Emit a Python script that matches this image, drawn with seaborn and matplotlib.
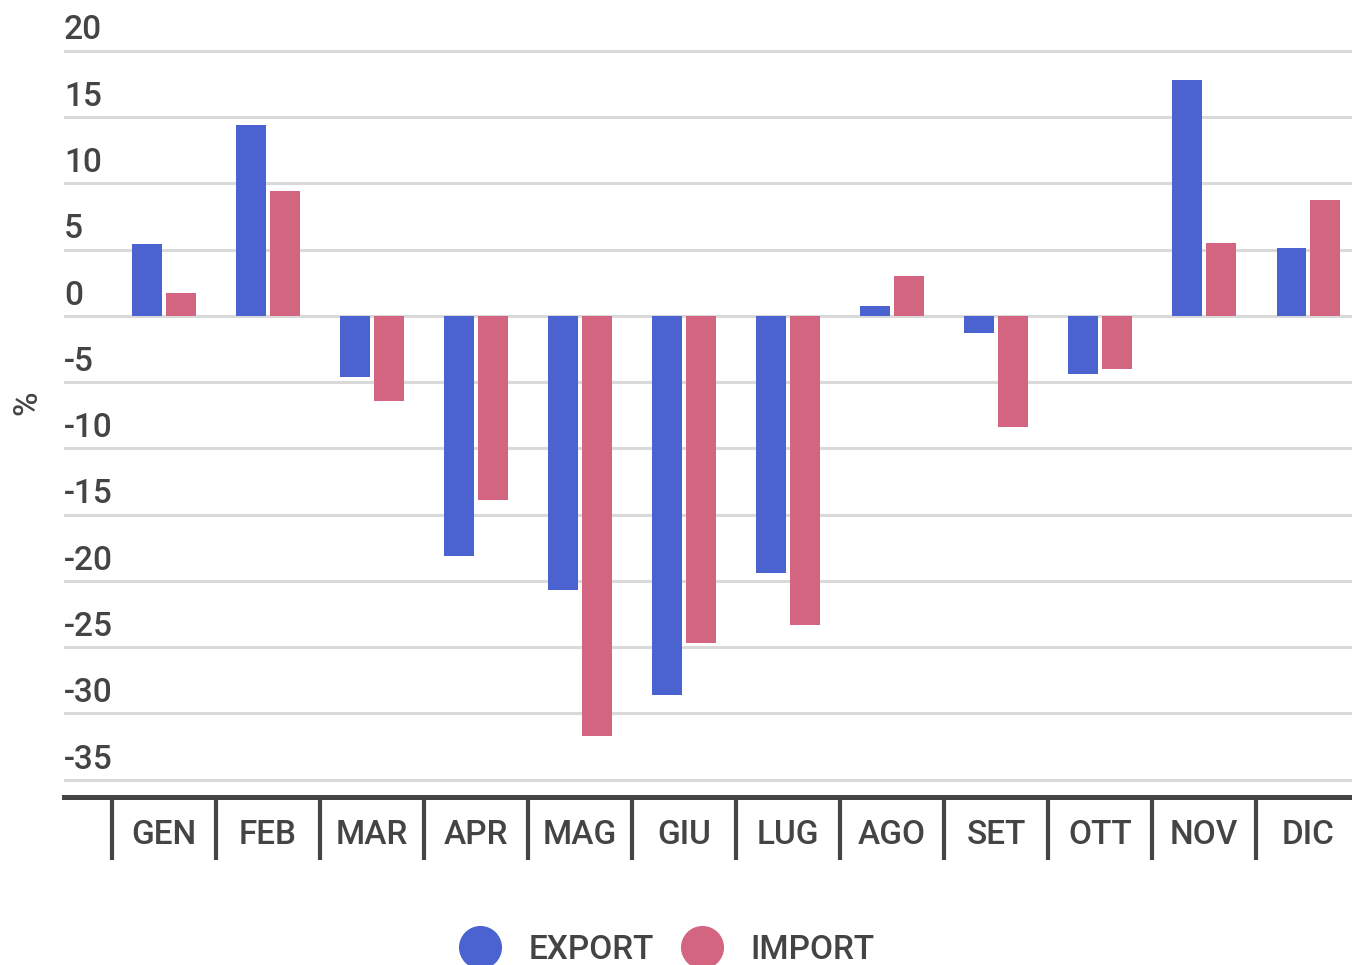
import numpy as np
import pandas as pd
import matplotlib
matplotlib.use("Agg")
import matplotlib.pyplot as plt
import matplotlib.transforms as mtransforms
from matplotlib.lines import Line2D
import seaborn as sns

# Data (variazione % mensile)
months = ["GEN", "FEB", "MAR", "APR", "MAG", "GIU", "LUG", "AGO", "SET", "OTT", "NOV", "DIC"]
export_vals = [5.4, 14.4, -4.6, -18.1, -20.7, -28.6, -19.4, 0.75, -1.3, -4.4, 17.8, 5.1]
import_vals = [1.7, 9.4, -6.4, -13.9, -31.7, -24.7, -23.3, 3.0, -8.4, -4.0, 5.5, 8.75]
series = ["EXPORT", "IMPORT"]
colors = ["#4a63d1", "#d36580"]
yticks = [20, 15, 10, 5, 0, -5, -10, -15, -20, -25, -30, -35]

df = pd.DataFrame({
    "mese": months * 2,
    "valore": export_vals + import_vals,
    "serie": ["EXPORT"] * len(months) + ["IMPORT"] * len(months),
})

sns.set_style("white")
plt.rcParams["font.family"] = ["Roboto", "DejaVu Sans"]
plt.rcParams["font.weight"] = "medium"
text_col = "#444444"
fs = 24

fig = plt.figure(figsize=(13.52, 9.65), dpi=100)
ax = fig.add_axes([64 / 1352, 1 - 797 / 965, 1 - 64 / 1352, 749 / 965])

sns.barplot(data=df, x="mese", y="valore", hue="serie", palette=colors,
            order=months, hue_order=series, width=0.65, gap=0.12,
            saturation=1, legend=False, linewidth=0, ax=ax, zorder=3)

ax.set_xlim(-0.96, 11.42)
ax.set_ylim(-36.3, 20.2)

# grid
ax.set_yticks(yticks)
ax.set_yticklabels([])
ax.tick_params(axis="y", length=0)
ax.grid(axis="y", color="#d9d9d9", linewidth=2.2, zorder=0)
ax.set_axisbelow(True)

# y labels above the gridlines
trans = mtransforms.offset_copy(
    mtransforms.blended_transform_factory(ax.transAxes, ax.transData),
    fig=fig, x=0, y=3, units="points")
for v in yticks:
    ax.text(0.0, v, str(v), transform=trans, ha="left", va="bottom",
            fontsize=fs, color=text_col, fontweight="medium")

# x axis
for s in ["top", "right", "left"]:
    ax.spines[s].set_visible(False)
ax.spines["bottom"].set_color(text_col)
ax.spines["bottom"].set_linewidth(3.6)
ax.set_xticks(np.arange(len(months)))
ax.set_xticklabels(months, fontsize=fs, color=text_col, fontweight="medium")
ax.tick_params(axis="x", which="major", bottom=False, pad=12)
ax.set_xticks(np.arange(len(months)) - 0.5, minor=True)
ax.tick_params(axis="x", which="minor", bottom=True, length=45, width=3,
               color=text_col)
ax.set_xlabel("")
ax.set_ylabel("")

fig.text(0.02, 1 - 403 / 965, "%", rotation=90, fontsize=fs, color=text_col,
         ha="center", va="center", fontweight="medium")

handles = [Line2D([], [], marker="o", linestyle="", markersize=30,
                  markerfacecolor=c, markeredgecolor=c) for c in colors]
fig.legend(handles, series, loc="center", bbox_to_anchor=(0.493, 1 - 950 / 965),
           ncol=2, frameon=False, fontsize=fs, labelcolor=text_col,
           handlelength=1.3, handletextpad=0.8, columnspacing=0.8)

fig.savefig("out.png", dpi=100)
